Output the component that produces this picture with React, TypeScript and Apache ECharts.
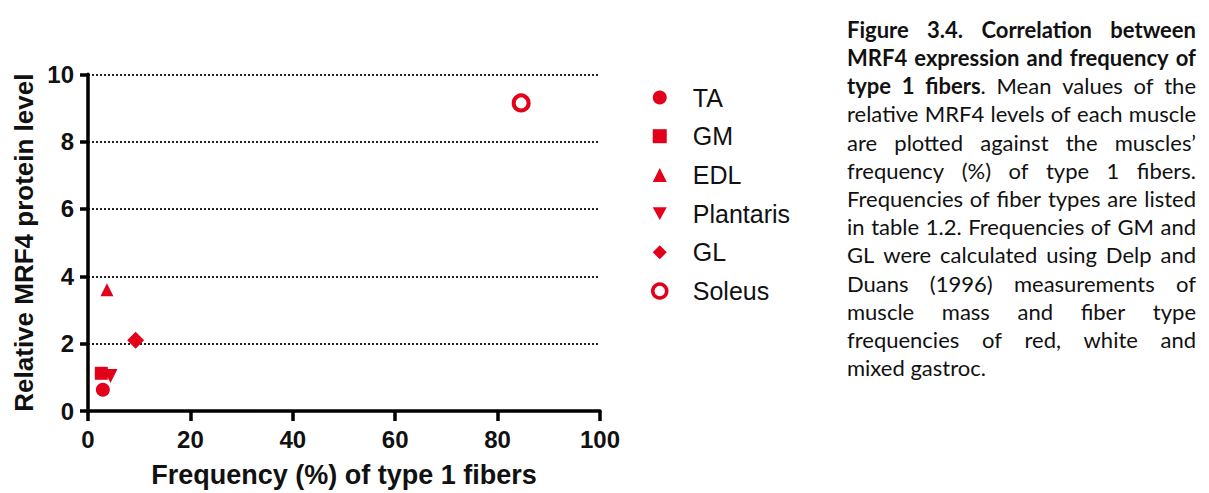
import React, { useEffect, useRef } from "react";
import * as echarts from "echarts";

const RED = "#e2001a";

const muscles = ["TA", "GM", "EDL", "Plantaris", "GL", "Soleus"];
const freqType1 = [2.9, 2.6, 3.7, 4.4, 9.3, 84.6];
const mrf4Level = [0.63, 1.12, 3.6, 1.04, 2.1, 9.15];
const symbols = ["circle", "rect", "triangle", "path://M0,0L10,0L5,9Z", "diamond", "circle"];
const symbolSizes = [14, 13, 13, 14, 17, 15];
const hollow = [false, false, false, false, false, true];

const xTitle = "Frequency (%) of type 1 fibers";
const yTitle = "Relative MRF4 protein level";

const captionLines = [
  "**Figure 3.4. Correlation between**",
  "**MRF4 expression and frequency of**",
  "**type 1 fibers**. Mean values of the",
  "relative MRF4 levels of each muscle",
  "are plotted against the muscles\u2019",
  "frequency (%) of type 1 fibers.",
  "Frequencies of fiber types are listed",
  "in table 1.2. Frequencies of GM and",
  "GL were calculated using Delp and",
  "Duans (1996) measurements of",
  "muscle mass and fiber type",
  "frequencies of red, white and",
  "mixed gastroc.",
];

const CAP_FONT = "Lato";
const CAP_LEFT = 847;
const CAP_RIGHT = 1196;
const CAP_BASE0 = 36.5;
const CAP_STEP = 28.2;

type Part = { text: string; bold: boolean };

function parseLine(line: string): Part[][] {
  const segs = line.split("**");
  const words: Part[][] = [];
  let cur: Part[] = [];
  segs.forEach((s, i) => {
    const bold = i % 2 === 1;
    const pieces = s.split(" ");
    pieces.forEach((p, j) => {
      if (j > 0) {
        if (cur.length) words.push(cur);
        cur = [];
      }
      if (p) cur.push({ text: p, bold });
    });
  });
  if (cur.length) words.push(cur);
  return words;
}

function buildCaption(): any[] {
  const canvas = document.createElement("canvas");
  const ctx = canvas.getContext("2d")!;
  const measure = (t: string, bold: boolean, fs: number) => {
    ctx.font = `${bold ? "bold " : ""}${fs}px ${CAP_FONT}`;
    return ctx.measureText(t).width;
  };
  const parsed = captionLines.map(parseLine);
  const width = CAP_RIGHT - CAP_LEFT;
  let maxNat = 0;
  parsed.forEach((words, li) => {
    if (li === parsed.length - 1) return;
    let w = 0;
    words.forEach((wd, wi) => {
      wd.forEach((p) => (w += measure(p.text, p.bold, 100)));
      if (wi > 0) w += measure(" ", wd[0].bold, 100) * 0.85;
    });
    maxNat = Math.max(maxNat, w / 100);
  });
  const fs = Math.min(22, Math.floor((width / maxNat) * 10) / 10);
  const els: any[] = [];
  parsed.forEach((words, li) => {
    const last = li === parsed.length - 1;
    const wordWidths = words.map((wd) =>
      wd.reduce((a, p) => a + measure(p.text, p.bold, fs), 0)
    );
    const total = wordWidths.reduce((a, b) => a + b, 0);
    const gap = last || words.length < 2
      ? measure(" ", false, fs)
      : (width - total) / (words.length - 1);
    let x = CAP_LEFT;
    const y = CAP_BASE0 + CAP_STEP * li - 0.33 * fs;
    words.forEach((wd, wi) => {
      let px = x;
      wd.forEach((p) => {
        els.push({
          type: "text",
          x: px,
          y,
          silent: true,
          style: {
            text: p.text,
            font: `${p.bold ? "bold " : ""}${fs}px ${CAP_FONT}`,
            fill: "#111",
            align: "left",
            verticalAlign: "middle",
          },
        });
        px += measure(p.text, p.bold, fs);
      });
      x += wordWidths[wi] + gap;
    });
  });
  return els;
}

export default function App() {
  const ref = useRef<HTMLDivElement>(null);
  useEffect(() => {
    if (!ref.current) return;
    const chart = echarts.init(ref.current, null, { renderer: "svg" });
    const series = muscles.map((name, i) => ({
      name,
      type: "scatter",
      data: [[freqType1[i], mrf4Level[i]]],
      symbol: symbols[i],
      symbolSize: symbolSizes[i],
      itemStyle: hollow[i]
        ? { color: "#fff", borderColor: RED, borderWidth: 4, opacity: 1 }
        : { color: RED, opacity: 1 },
      z: 5,
    }));
    const axisFont = "'Liberation Sans', Arial, Helvetica, sans-serif";
    chart.setOption({
      animation: false,
      backgroundColor: "#fff",
      grid: { left: 88, right: 609, top: 74.3, bottom: 77.5, containLabel: false },
      xAxis: {
        type: "value",
        min: 0,
        max: 100,
        interval: 20,
        name: xTitle,
        nameLocation: "middle",
        nameGap: 50,
        nameTextStyle: { fontSize: 27, fontWeight: "bold", color: "#111", fontFamily: axisFont },
        axisLine: { show: true, onZero: false, lineStyle: { color: "#000", width: 3.5 } },
        axisTick: { show: true, length: 10, lineStyle: { color: "#000", width: 3.5 } },
        axisLabel: { fontSize: 24, fontWeight: "bold", color: "#111", fontFamily: axisFont, margin: 16 },
        splitLine: { show: false },
      },
      yAxis: {
        type: "value",
        min: 0,
        max: 10,
        interval: 2,
        name: yTitle,
        nameLocation: "middle",
        nameGap: 51,
        nameTextStyle: { fontSize: 26, fontWeight: "bold", color: "#111", fontFamily: axisFont },
        axisLine: { show: true, onZero: false, lineStyle: { color: "#000", width: 3.5 } },
        axisTick: { show: true, length: 8, lineStyle: { color: "#000", width: 3.5 } },
        axisLabel: { fontSize: 24, fontWeight: "bold", color: "#111", fontFamily: axisFont, margin: 14 },
        splitLine: { show: true, lineStyle: { type: "dotted", color: "#222", width: 2 } },
      },
      legend: {
        orient: "vertical",
        left: 646,
        top: 80,
        itemWidth: 14,
        itemHeight: 14,
        itemGap: 13.7,
        textStyle: {
          fontSize: 25,
          lineHeight: 25,
          color: "#111",
          fontFamily: axisFont,
          padding: [0, 0, 0, 21],
        },
        data: muscles.map((m, i) =>
          hollow[i]
            ? { name: m, itemStyle: { borderWidth: 3.5, borderColor: RED, color: "#fff" } }
            : { name: m }
        ),
      },
      graphic: buildCaption(),
      series,
    });
    return () => chart.dispose();
  }, []);
  return (
    <div
      ref={ref}
      style={{ position: "fixed", left: 0, top: 0, width: 1209, height: 493, background: "#fff" }}
    />
  );
}
